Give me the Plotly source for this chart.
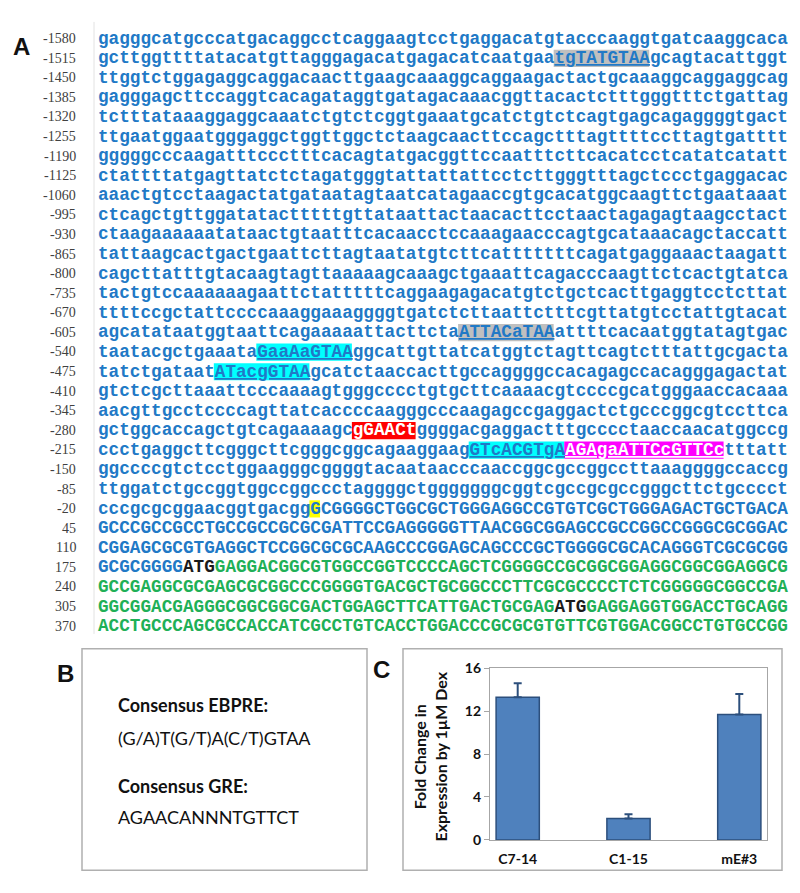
import plotly.graph_objects as go

# ---------------- data ----------------
pos_labels = ["-1580", "-1515", "-1450", "-1385", "-1320", "-1255", "-1190", "-1125",
              "-1060", "-995", "-930", "-865", "-800", "-735", "-670", "-605", "-540",
              "-475", "-410", "-345", "-280", "-215", "-150", "-85", "-20", "45", "110",
              "175", "240", "305", "370"]

seq_lines = [
    "gagggcatgcccatgacaggcctcaggaagtcctgaggacatgtacccaaggtgatcaaggcaca",
    "gcttggttttatacatgttagggagacatgagacatcaatgaatgTATGTAAgcagtacattggt",
    "ttggtctggagaggcaggacaacttgaagcaaaggcaggaagactactgcaaaggcaggaggcag",
    "gagggagcttccaggtcacagataggtgatagacaaacggttacactctttgggtttctgattag",
    "tctttataaaggaggcaaatctgtctcggtgaaatgcatctgtctcagtgagcagaggggtgact",
    "ttgaatggaatgggaggctggttggctctaagcaacttccagctttagttttccttagtgatttt",
    "gggggcccaagatttccctttcacagtatgacggttccaatttcttcacatcctcatatcatatt",
    "ctattttatgagttatctctagatgggtattattattcctcttgggtttagctccctgaggacac",
    "aaactgtcctaagactatgataatagtaatcatagaaccgtgcacatggcaagttctgaataaat",
    "ctcagctgttggatatactttttgttataattactaacacttcctaactagagagtaagcctact",
    "ctaagaaaaaatataactgtaatttcacaacctccaaagaacccagtgcataaacagctaccatt",
    "tattaagcactgactgaattcttagtaatatgtcttcatttttttcagatgaggaaactaagatt",
    "cagcttatttgtacaagtagttaaaaagcaaagctgaaattcagacccaagttctcactgtatca",
    "tactgtccaaaaaagaattctatttttcaggaagagacatgtctgctcacttgaggtcctcttat",
    "ttttccgctattccccaaaggaaaggggtgatctcttaattctttcgttatgtcctattgtacat",
    "agcatataatggtaattcagaaaaattacttctaATTACaTAAattttcacaatggtatagtgac",
    "taatacgctgaaataGaaAaGTAAggcattgttatcatggtctagttcagtctttattgcgacta",
    "tatctgataatATacgGTAAgcatctaaccacttgccaggggccacagagccacagggagactat",
    "gtctcgcttaaattcccaaaagtgggcccctgtgcttcaaaacgtccccgcatgggaaccacaaa",
    "aacgttgcctccccagttatcaccccaagggcccaagagccgaggactctgcccggcgtccttca",
    "gctggcaccagctgtcagaaaagcgGAACtggggacgaggactttgcccctaaccaacatggccg",
    "ccctgaggcttcgggcttcgggcggcagaaggaagGTcACGTgAAGAgaATTCcGTTCctttatt",
    "ggccccgtctcctggaagggcggggtacaataacccaaccggcgccggccttaaaggggccaccg",
    "ttggatctgccggtggccggccctaggggctgggggggcggtcgccgcgccgggcttctgcccct",
    "cccgcgcggaacggtgacggGCGGGGCTGGCGCTGGGAGGCCGTGTCGCTGGGAGACTGCTGACA",
    "GCCCGCCGCCTGCCGCCGCGCGATTCCGAGGGGGTTAACGGCGGAGCCGCCGGCCGGGCGCGGAC",
    "CGGAGCGCGTGAGGCTCCGGCGCGCAAGCCCGGAGCAGCCCGCTGGGGCGCACAGGGTCGCGCGG",
    "GCGCGGGGATGGAGGACGGCGTGGCCGGTCCCCAGCTCGGGGCCGCGGCGGAGGCGGCGGAGGCG",
    "GCCGAGGCGCGAGCGCGGCCCGGGGTGACGCTGCGGCCCTTCGCGCCCCTCTCGGGGGCGGCCGA",
    "GGCGGACGAGGGCGGCGGCGACTGGAGCTTCATTGACTGCGAGATGGAGGAGGTGGACCTGCAGG",
    "ACCTGCCCAGCGCCACCATCGCCTGTCACCTGGACCCGCGCGTGTTCGTGGACGGCCTGTGCCGG",
]

# highlighted sites: (line, start, length, fill, white_text, underline)
site_line = [1, 15, 16, 17, 20, 21, 21, 24]
site_start = [43, 34, 15, 11, 24, 35, 44, 20]
site_len = [9, 9, 9, 9, 6, 9, 15, 1]
site_fill = ["#bfbfbf", "#bfbfbf", "#00ffff", "#00ffff", "#ff0000", "#00ffff", "#ff00ff", "#ffff00"]
site_white = [False, False, False, False, True, False, True, False]
site_under = [True, True, True, True, False, True, True, False]

# start codons (black) and coding region (green)
atg_line = [27, 29]
atg_start = [8, 43]
coding_line, coding_start = 27, 11

categories = ["C7-14", "C1-15", "mE#3"]
fold_change = [13.3, 2.0, 11.7]
fold_err = [1.3, 0.4, 1.9]

# ---------------- styling ----------------
BLUE = "#2179c6"
GREEN = "#1fb057"
BLACK = "#1a1a1a"
OFF = 8                      # page body margin
W, H = 800 - OFF, 893 - OFF  # figure size
FS = 17.7
CW = 0.6 * FS
X0 = 97
Y0 = 30
DY = 19.97


def px(x):
    return (x - OFF) / W


def py(y):
    return 1 - (y - OFF) / H


def markup(i, s):
    styles = []
    for j, _ in enumerate(s):
        col = BLUE
        if i > coding_line or (i == coding_line and j >= coding_start):
            col = GREEN
        for li, st in zip(atg_line, atg_start):
            if li == i and st <= j < st + 3:
                col = BLACK
        ul = False
        for k in range(len(site_line)):
            if site_line[k] == i and site_start[k] <= j < site_start[k] + site_len[k]:
                if site_white[k]:
                    col = "#ffffff"
                ul = site_under[k]
        styles.append((col, ul))
    out = []
    j = 0
    while j < len(s):
        k = j
        while k < len(s) and styles[k] == styles[j]:
            k += 1
        seg = s[j:k]
        col, ul = styles[j]
        if ul:
            seg = "<u>" + seg + "</u>"
        out.append(f'<span style="color:{col}">{seg}</span>')
        j = k
    return "".join(out)


fig = go.Figure()

fig.add_trace(go.Bar(
    x=categories, y=fold_change, width=0.39,
    marker=dict(color="#4f81bd", line=dict(color="#2c4f7c", width=1.5)),
    error_y=dict(type="data", symmetric=False, array=fold_err, arrayminus=[0, 0, 0],
                 color="#2c4f7c", thickness=2, width=4),
    showlegend=False,
))

shapes = []
annotations = []

# vertical separator line
shapes.append(dict(type="line", xref="paper", yref="paper", x0=px(94), x1=px(94),
                   y0=py(13), y1=py(637), line=dict(color="#e2e2e2", width=1)))

# highlight rectangles
for k in range(len(site_line)):
    yc = Y0 + site_line[k] * DY
    x0 = X0 + site_start[k] * CW
    shapes.append(dict(type="rect", xref="paper", yref="paper", layer="below",
                       x0=px(x0), x1=px(x0 + site_len[k] * CW),
                       y0=py(yc - 8.5), y1=py(yc + 9), fillcolor=site_fill[k],
                       line=dict(width=0)))

for i, (lab, s) in enumerate(zip(pos_labels, seq_lines)):
    yc = Y0 + i * DY
    annotations.append(dict(xref="paper", yref="paper", x=px(77), y=py(yc),
                            xanchor="right", yanchor="middle", showarrow=False,
                            text=lab, borderpad=0,
                            font=dict(family="Liberation Serif", size=14, color="#404040")))
    annotations.append(dict(xref="paper", yref="paper", x=px(X0), y=py(yc),
                            xanchor="left", yanchor="middle", showarrow=False,
                            text=markup(i, s), borderpad=0,
                            font=dict(family="Liberation Mono", size=FS, weight="bold",
                                      color=BLUE)))

# panel letters
for t, x, y in [("A", 21, 38), ("B", 65, 677), ("C", 381, 673)]:
    annotations.append(dict(xref="paper", yref="paper", x=px(x), y=py(y), showarrow=False,
                            xanchor="center", yanchor="middle",
                            text=f"<b>{t}</b>",
                            font=dict(family="Liberation Sans", size=24, color="#111111")))

# panel boxes
for x0, x1 in [(82, 367), (403, 782)]:
    shapes.append(dict(type="rect", xref="paper", yref="paper", x0=px(x0), x1=px(x1),
                       y0=py(652), y1=py(878), line=dict(color="#b0b0b0", width=1.5)))

# panel B text
for t, y, b in [("Consensus EBPRE:", 709, True), ("(G/A)T(G/T)A(C/T)GTAA", 743, False),
                ("Consensus GRE:", 792, True), ("AGAACANNNTGTTCT", 824, False)]:
    annotations.append(dict(xref="paper", yref="paper", x=px(116), y=py(y), xanchor="left",
                            yanchor="middle", showarrow=False, text=f"<b>{t}</b>" if b else t,
                            font=dict(family="Lato", size=18, color="#111111")))

# y-axis title for panel C
annotations.append(dict(xref="paper", yref="paper", x=px(430), y=py(762), showarrow=False,
                        xanchor="center", yanchor="middle",
                        textangle=-90, text="<b>Fold Change in<br>Expression by 1µM Dex</b>",
                        font=dict(family="Lato", size=16, color="#111111")))

fig.update_layout(
    width=W, height=H, margin=dict(l=0, r=0, t=0, b=0),
    paper_bgcolor="white", plot_bgcolor="white",
    shapes=shapes, annotations=annotations,
    xaxis=dict(domain=[px(490), px(767)], range=[-0.25, 2.25], type="category",
               showline=True, mirror=True, linecolor="#a6a6a6", linewidth=1.2,
               ticks="", ticklabelstandoff=6,
               tickfont=dict(family="Lato", size=14, color="#111111", weight="bold"),
               showgrid=False, zeroline=False),
    yaxis=dict(domain=[py(847), py(672)], range=[0, 16], dtick=4, showline=True, mirror=True,
               linecolor="#a6a6a6", linewidth=1.2, ticks="outside", ticklen=5,
               tickcolor="#a6a6a6", showgrid=False, zeroline=False,
               tickfont=dict(family="Lato", size=14, color="#111111", weight="bold")),
)

fig.write_html("out.html")
